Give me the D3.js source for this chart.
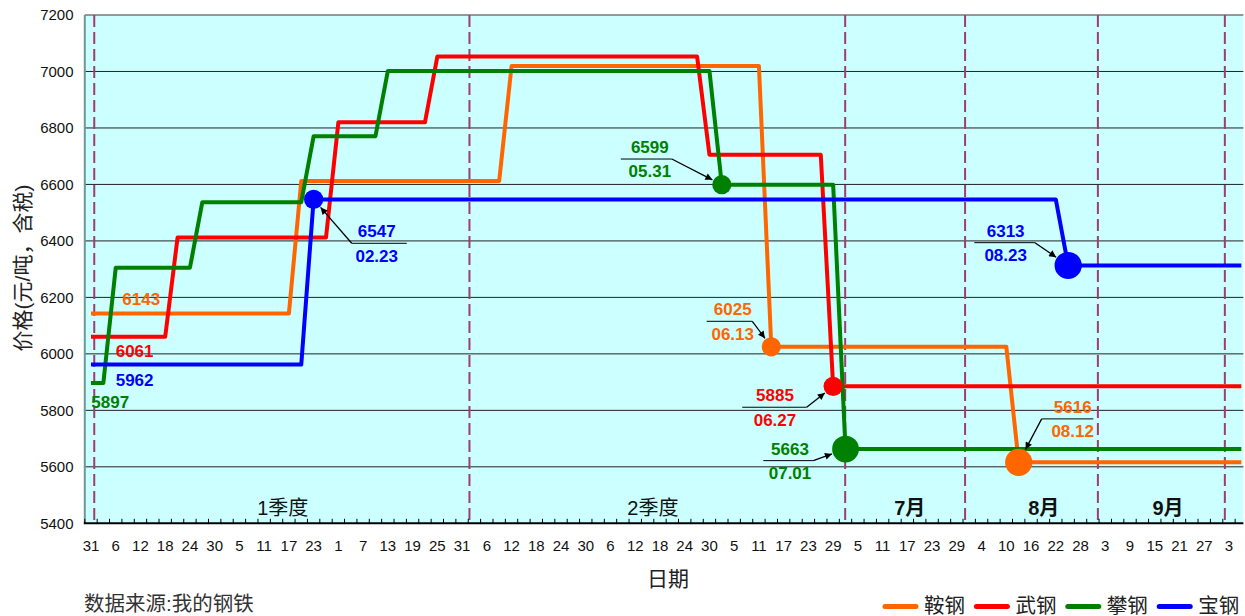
<!DOCTYPE html>
<html><head><meta charset="utf-8">
<script src="https://cdn.jsdelivr.net/npm/d3@7"></script>
<style>body{margin:0;background:#fff}svg{display:block}</style>
</head><body><svg id="c" width="1245" height="616"></svg>
<script>
// ---------------- data ----------------
const seriesNames = ["鞍钢", "武钢", "攀钢", "宝钢"];
const seriesColors = ["#FF6600", "#FF0000", "#008000", "#0000FF"];

const angangDates  = ["2018-12-31","2019-02-17","2019-02-20","2019-04-09","2019-04-12","2019-06-11","2019-06-14","2019-08-10","2019-08-13","2019-10-06"];
const angangValues = [6143, 6143, 6612, 6612, 7019, 7019, 6025, 6025, 5616, 5616];

const wugangDates  = ["2018-12-31","2019-01-18","2019-01-21","2019-02-26","2019-03-01","2019-03-22","2019-03-25","2019-05-27","2019-05-30","2019-06-26","2019-06-29","2019-10-06"];
const wugangValues = [6061, 6061, 6412, 6412, 6820, 6820, 7053, 7053, 6705, 6705, 5885, 5885];

const pangangDates  = ["2018-12-31","2019-01-03","2019-01-06","2019-01-24","2019-01-27","2019-02-20","2019-02-23","2019-03-10","2019-03-13","2019-05-30","2019-06-02","2019-06-29","2019-07-02","2019-10-06"];
const pangangValues = [5897, 5897, 6305, 6305, 6537, 6537, 6771, 6771, 7002, 7002, 6599, 6599, 5663, 5663];

const baogangDates  = ["2018-12-31","2019-02-20","2019-02-23","2019-08-22","2019-08-25","2019-10-06"];
const baogangValues = [5962, 5962, 6547, 6547, 6313, 6313];

// highlighted price changes
const markerSeries     = ["攀钢", "鞍钢", "武钢", "攀钢", "宝钢", "宝钢", "鞍钢"];
const markerDates      = ["2019-06-02","2019-06-14","2019-06-29","2019-07-02","2019-02-23","2019-08-25","2019-08-13"];
const markerValues     = [6599, 6025, 5885, 5663, 6547, 6313, 5616];
const markerDateLabels = ["05.31", "06.13", "06.27", "07.01", "02.23", "08.23", "08.12"];

const yTickValues = [5400, 5600, 5800, 6000, 6200, 6400, 6600, 6800, 7000, 7200];
const xTickLabels = ["31","6","12","18","24","30","5","11","17","23","1","7","13","19","25","31",
  "6","12","18","24","30","6","12","18","24","30","5","11","17","23","29",
  "5","11","17","23","29","4","10","16","22","28","3","9","15","21","27","3"];
const periodLabels = ["1季度", "2季度", "7月", "8月", "9月"];

// ---------------- layout / style ----------------
const P = s => new Date(s.length === 10 ? s + "T00:00:00Z" : s + ":00Z");
const DAY = 864e5;
const W = 1245, H = 616;
const plot = {l: 84.8, r: 1243.4, t: 15, b: 523.3};
const xDomain = [P("2018-12-29T12:00"), P("2019-10-06T12:00")];
const firstLabelDate = P("2018-12-31");
const dividerDates = ["2018-12-31T19:00","2019-04-01T19:00","2019-07-01T22:00","2019-07-31T00:00","2019-09-01T05:00","2019-10-02T00:00"];
const periodAnchors = ["2019-02-15T12:00","2019-05-16T07:00","2019-07-17T14:00","2019-08-19T02:00","2019-09-18T05:00"];
const periodBold = [false, false, true, true, true];
const markerRadius = [9.6, 9.6, 9.6, 13.4, 9.6, 13.6, 13.6];
// annotation offsets relative to the marker centre: text centre dx, underline x1,x2, underline dy, arrow from end
const annot = [
  {tx: -72, u1: -101, u2: -50, uy: -25.7, from: "r"},
  {tx: -38.6, u1: -64.6, u2: -19, uy: -25.5, from: "r"},
  {tx: -58.2, u1: -90.9, u2: -26.5, uy: 20.9, from: "r"},
  {tx: -55.5, u1: -82.2, u2: -32.2, uy: 11.6, from: "r"},
  {tx: 63.1, u1: 38.1, u2: 93.1, uy: 43.9, from: "l"},
  {tx: -62.5, u1: -93.9, u2: -33.2, uy: -22.8, from: "r"},
  {tx: 54, u1: 23, u2: 74.6, uy: -43.4, from: "l"}
];
// start value labels: offset from the first point
const startLabelOffsets = [{dx: 31.3, dy: -8.5}, {dx: 24.7, dy: 20.8}, {dx: 0.3, dy: 25}, {dx: 24.7, dy: 21.2}];

const FONT_NUM = "'Liberation Sans', Arial, sans-serif";
const FONT_CJK = "'Liberation Sans', 'Noto Sans CJK SC', sans-serif";

// ---------------- build ----------------
const allDates = [angangDates, wugangDates, pangangDates, baogangDates];
const allValues = [angangValues, wugangValues, pangangValues, baogangValues];
const series = seriesNames.map((name, i) => ({
  name, color: seriesColors[i],
  points: allDates[i].map((d, j) => ({date: P(d), value: allValues[i][j]}))
}));

const x = d3.scaleUtc().domain(xDomain).range([plot.l, plot.r]);
const y = d3.scaleLinear().domain([5400, 7200]).range([plot.b, plot.t]);

const svg = d3.select("#c");
svg.append("rect").attr("width", W).attr("height", H).attr("fill", "#fff");
svg.append("rect").attr("x", plot.l).attr("y", plot.t).attr("width", plot.r - plot.l)
  .attr("height", plot.b - plot.t).attr("fill", "#CCFFFF");

// gridlines
svg.append("g").selectAll("line").data(yTickValues.filter(v => v > 5400)).join("line")
  .attr("x1", plot.l).attr("x2", plot.r).attr("y1", d => y(d)).attr("y2", d => y(d))
  .attr("stroke", d => d === 7200 ? "#777" : "#222").attr("stroke-width", d => d === 7200 ? 1.5 : 1);

// period dividers
svg.append("g").selectAll("line").data(dividerDates).join("line")
  .attr("x1", d => x(P(d))).attr("x2", d => x(P(d))).attr("y1", plot.t).attr("y2", plot.b)
  .attr("stroke", "#9E3D72").attr("stroke-width", 2).attr("stroke-dasharray", "12,5");

// period labels
svg.append("g").selectAll("text").data(periodLabels).join("text")
  .attr("x", (d, i) => x(P(periodAnchors[i]))).attr("y", 515)
  .attr("text-anchor", "middle").attr("font-family", FONT_CJK).attr("font-size", 20)
  .attr("font-weight", (d, i) => periodBold[i] ? "bold" : "normal").attr("fill", "#111")
  .text(d => d);

// y axis
svg.append("line").attr("x1", plot.l).attr("x2", plot.l).attr("y1", plot.t).attr("y2", plot.b)
  .attr("stroke", "#6B9999").attr("stroke-width", 2);
svg.append("g").selectAll("text").data(yTickValues).join("text")
  .attr("x", 73.5).attr("y", d => y(d) + 5.3).attr("text-anchor", "end")
  .attr("font-family", FONT_NUM).attr("font-size", 15).attr("fill", "#111").text(d => d);

// x axis
svg.append("line").attr("x1", plot.l - 1).attr("x2", plot.r).attr("y1", plot.b).attr("y2", plot.b)
  .attr("stroke", "#000").attr("stroke-width", 2);
const tickDates = d3.range(0, 94).map(k => new Date(+xDomain[0] + k * 3 * DAY));
svg.append("g").selectAll("line").data(tickDates).join("line")
  .attr("x1", d => x(d)).attr("x2", d => x(d)).attr("y1", plot.b).attr("y2", plot.b - 4.5)
  .attr("stroke", "#000").attr("stroke-width", 1);
svg.append("g").selectAll("text").data(xTickLabels).join("text")
  .attr("x", (d, i) => x(new Date(+firstLabelDate + i * 6 * DAY))).attr("y", 550.5)
  .attr("text-anchor", "middle").attr("font-family", FONT_NUM).attr("font-size", 15)
  .attr("fill", "#111").text(d => d);

// axis titles
svg.append("text").attr("transform", "translate(30,268) rotate(-90)").attr("text-anchor", "middle")
  .attr("font-family", FONT_CJK).attr("font-size", 21).attr("fill", "#222").text("价格(元/吨，含税)");
svg.append("text").attr("x", 668).attr("y", 586).attr("text-anchor", "middle")
  .attr("font-family", FONT_CJK).attr("font-size", 21).attr("fill", "#222").text("日期");
svg.append("text").attr("x", 84).attr("y", 611)
  .attr("font-family", FONT_CJK).attr("font-size", 20.5).attr("fill", "#333").text("数据来源:我的钢铁");

// series lines
const line = d3.line().x(d => x(d.date)).y(d => y(d.value));
svg.append("g").selectAll("path").data(series).join("path")
  .attr("d", d => line(d.points)).attr("fill", "none").attr("stroke", d => d.color)
  .attr("stroke-width", 4).attr("stroke-linejoin", "round");

// start labels
svg.append("g").selectAll("text").data(series).join("text")
  .attr("x", (d, i) => x(d.points[0].date) + startLabelOffsets[i].dx)
  .attr("y", (d, i) => y(d.points[0].value) + startLabelOffsets[i].dy)
  .attr("font-family", FONT_NUM).attr("font-size", 17).attr("font-weight", "bold")
  .attr("fill", d => d.color).text(d => d.points[0].value);

// arrow marker
svg.append("defs").append("marker").attr("id", "arr").attr("viewBox", "0 0 10 10")
  .attr("refX", 10).attr("refY", 5).attr("markerWidth", 8).attr("markerHeight", 7)
  .attr("markerUnits", "userSpaceOnUse").attr("orient", "auto")
  .append("path").attr("d", "M0,0 L10,5 L0,10 z").attr("fill", "#000");

// markers and annotations
const markers = markerSeries.map((s, i) => {
  const si = seriesNames.indexOf(s);
  return {color: seriesColors[si], date: P(markerDates[i]), value: markerValues[i],
          label: markerDateLabels[i], r: markerRadius[i], a: annot[i]};
});
const ag = svg.append("g");
markers.forEach(m => {
  const cx = x(m.date), cy = y(m.value), a = m.a;
  const uy = cy + a.uy;
  ag.append("line").attr("x1", cx + a.u1).attr("x2", cx + a.u2).attr("y1", uy).attr("y2", uy)
    .attr("stroke", "#000").attr("stroke-width", 1);
  const sx = cx + (a.from === "r" ? a.u2 : a.u1), sy = uy;
  const vx = sx - cx, vy = sy - cy, len = Math.hypot(vx, vy);
  const ex = cx + vx / len * (m.r + 1), ey = cy + vy / len * (m.r + 1);
  ag.append("line").attr("x1", sx).attr("y1", sy).attr("x2", ex).attr("y2", ey)
    .attr("stroke", "#000").attr("stroke-width", 1.3).attr("marker-end", "url(#arr)");
  ag.append("text").attr("x", cx + a.tx).attr("y", uy - 6).attr("text-anchor", "middle")
    .attr("font-family", FONT_NUM).attr("font-size", 17).attr("font-weight", "bold")
    .attr("fill", m.color).text(m.value);
  ag.append("text").attr("x", cx + a.tx).attr("y", uy + 18.4).attr("text-anchor", "middle")
    .attr("font-family", FONT_NUM).attr("font-size", 17).attr("font-weight", "bold")
    .attr("fill", m.color).text(m.label);
});
svg.append("g").selectAll("circle").data(markers).join("circle")
  .attr("cx", d => x(d.date)).attr("cy", d => y(d.value)).attr("r", d => d.r)
  .attr("fill", d => d.color);

// legend
const lg = svg.append("g").selectAll("g").data(series).join("g")
  .attr("transform", (d, i) => `translate(${884 + i * 91.4},606.5)`);
lg.append("line").attr("x1", 1).attr("x2", 32).attr("stroke", d => d.color)
  .attr("stroke-width", 5).attr("stroke-linecap", "round");
lg.append("text").attr("x", 40).attr("y", 6.5).attr("font-family", FONT_CJK).attr("font-size", 20.5)
  .attr("fill", "#222").text(d => d.name);
</script></body></html>
